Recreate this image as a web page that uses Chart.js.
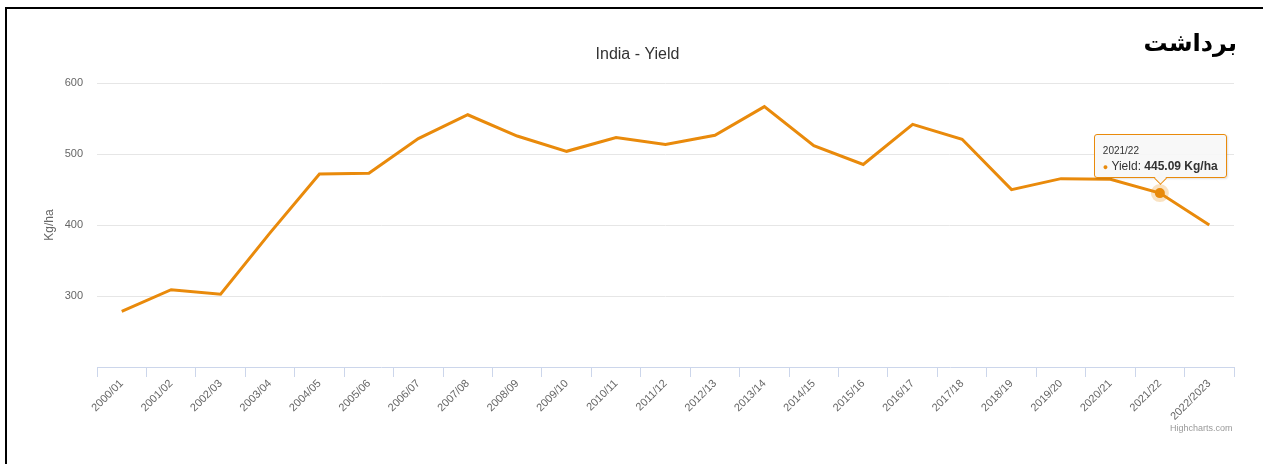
<!DOCTYPE html>
<html>
<head>
<meta charset="utf-8">
<script src="https://cdn.jsdelivr.net/npm/chart.js@4"></script>
<style>
  html, body { margin: 0; padding: 0; background: #fff; overflow: hidden; }
  #wrap { position: absolute; left: 0; top: 0; width: 1263px; height: 464px; }
  #frame { position: absolute; left: 5px; top: 7px; width: 1300px; height: 500px;
           border: 2px solid #000; pointer-events: none; }
  #fa { position: absolute; right: 26px; top: 29px; font-family: "DejaVu Sans", sans-serif;
        font-weight: bold; font-size: 24px; color: #000; direction: rtl; }
  #credit { position: absolute; left: 1170px; top: 423px; font-family: "Liberation Sans", Arial, sans-serif;
            font-size: 9px; color: #999; }
  #tip { position: absolute; display: none; width: 131px; height: 42px; box-sizing: content-box;
         background: rgba(247,247,247,0.9); border: 1px solid #e98a0b; border-radius: 3px;
         box-shadow: 1px 1px 2px rgba(0,0,0,0.12); font-family: "Liberation Sans", Arial, sans-serif; color: #333; }
  #tip .t { position: absolute; left: 8px; top: 10px; font-size: 10px; }
  #tip .b { position: absolute; left: 8px; top: 24px; font-size: 12px; white-space: nowrap; }
  #tip .b i { font-style: normal; color: #e98a0b; font-size: 9px; }
  #tip .arrow { position: absolute; left: 61px; bottom: -6px; width: 8px; height: 8px;
                background: rgb(247,247,247); border-right: 1px solid #e98a0b; border-bottom: 1px solid #e98a0b;
                transform: rotate(45deg); }
</style>
</head>
<body>
<div id="wrap">
  <canvas id="yieldChart"></canvas>
  <div id="tip"><div class="arrow"></div><div class="t"></div><div class="b"></div></div>
</div>
<div id="fa">برداشت</div>
<div id="credit">Highcharts.com</div>
<div id="frame"></div>

<script>
// 시즌 (x축)
const seasons = ['2000/01', '2001/02', '2002/03', '2003/04', '2004/05', '2005/06', '2006/07', '2007/08',
  '2008/09', '2009/10', '2010/11', '2011/12', '2012/13', '2013/14', '2014/15', '2015/16', '2016/17',
  '2017/18', '2018/19', '2019/20', '2020/21', '2021/22', '2022/2023'];

// 수확량 Kg/ha
const yieldValues = [278.5, 309, 302.5, 389, 472, 473, 522, 555.5, 525.5, 504, 523.5, 513.5, 526.5,
  567, 512, 485.5, 542, 521, 450, 465.5, 464.5, 445.09, 400];

// y축 눈금
const yTicks = [200, 300, 400, 500, 600];

const hoverIndex = 21;
const lineColor = '#e98a0b';
const font = '"Liberation Sans", Arial, sans-serif';

// 툴팁 (HTML)
function externalTip(context) {
  const tip = document.getElementById('tip');
  const t = context.tooltip;
  if (t.opacity === 0 || !t.dataPoints || !t.dataPoints.length) { tip.style.display = 'none'; return; }
  const p = t.dataPoints[0];
  tip.querySelector('.t').textContent = p.label;
  tip.querySelector('.b').innerHTML = '<i>●</i> Yield: <b>' + p.parsed.y.toFixed(2) + ' Kg/ha</b>';
  tip.style.display = 'block';
  tip.style.left = (t.caretX - 66) + 'px';
  tip.style.top = (t.caretY - 59) + 'px';
}

const ctx = document.getElementById('yieldChart').getContext('2d');
const chart = new Chart(ctx, {
  type: 'line',
  data: {
    labels: seasons,
    datasets: [{
      label: 'Yield',
      data: yieldValues,
      borderColor: lineColor,
      borderWidth: 3,
      tension: 0,
      pointRadius: 0,
      pointHoverRadius: 5,
      pointBackgroundColor: lineColor,
      pointHoverBackgroundColor: lineColor,
      pointHoverBorderColor: 'rgba(233,138,11,0.25)',
      pointHoverBorderWidth: 8
    }]
  },
  options: {
    responsive: true,
    maintainAspectRatio: false,
    animation: false,
    events: [],
    layout: { padding: { left: 41, right: 29, top: 0, bottom: 0 } },
    plugins: {
      legend: { display: false },
      title: {
        display: true,
        text: 'India - Yield',
        color: '#333333',
        font: { family: font, size: 16, weight: 'normal' },
        padding: { top: 45, bottom: 19 }
      },
      tooltip: { enabled: false, external: externalTip }
    },
    scales: {
      x: {
        offset: true,
        grid: { drawOnChartArea: false, color: '#ccd6eb', tickLength: 10, offset: true },
        border: { color: '#ccd6eb' },
        ticks: {
          color: '#666666', font: { family: font, size: 11 },
          minRotation: 45, maxRotation: 45, padding: 0, autoSkip: false
        },
        afterFit: s => { s.height = 97; }
      },
      y: {
        min: 200,
        max: 600,
        afterBuildTicks: s => { s.ticks = yTicks.map(v => ({ value: v })); },
        grid: {
          drawTicks: false,
          color: c => (c.tick && c.tick.value === 200 ? 'rgba(0,0,0,0)' : '#e6e6e6')
        },
        border: { display: false },
        ticks: {
          color: '#666666', font: { family: font, size: 11 }, padding: 14,
          callback: v => (v === 200 ? '' : v)
        },
        title: {
          display: true, text: 'Kg/ha', color: '#666666',
          font: { family: font, size: 12 }, padding: { top: 1, bottom: 0 }
        },
        afterFit: s => { s.width = 56; }
      }
    }
  }
});

// 2021/22 포인트 강조 + 툴팁
const active = [{ datasetIndex: 0, index: hoverIndex }];
chart.setActiveElements(active);
chart.tooltip.setActiveElements(active, { x: 0, y: 0 });
chart.update();
</script>
</body>
</html>
